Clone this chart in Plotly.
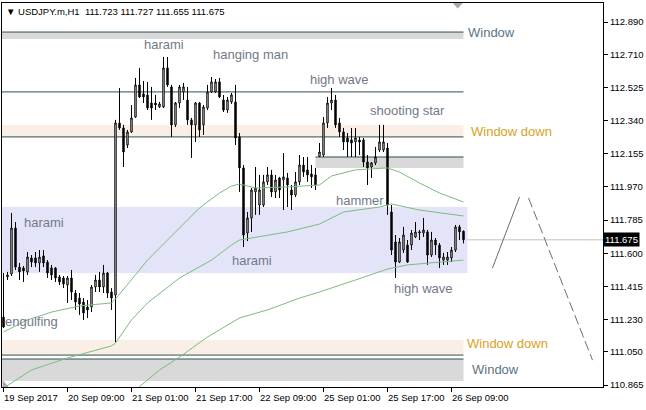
import plotly.graph_objects as go

# ---------------- data ----------------
bars = list(range(116))
opens = [111.244,111.468,111.484,111.741,111.523,111.518,111.496,111.574,111.574,111.546,
         111.585,111.551,111.518,111.518,111.468,111.462,111.423,111.462,111.378,111.350,
         111.328,111.300,111.300,111.412,111.451,111.412,111.490,111.384,111.367,112.327,
         112.299,112.204,112.277,112.360,112.539,112.489,112.483,112.438,112.438,112.416,
         112.416,112.634,112.528,112.316,112.438,112.500,112.455,112.344,112.316,112.438,
         112.316,112.410,112.500,112.500,112.556,112.455,112.399,112.444,112.444,112.249,
         112.076,111.713,111.797,111.942,111.869,111.869,111.998,112.037,111.942,112.020,
         112.009,112.020,111.953,111.925,111.998,112.092,112.065,112.042,112.037,112.140,
         112.148,112.327,112.438,112.455,112.327,112.277,112.243,112.232,112.221,112.232,
         112.232,112.109,112.081,112.104,112.176,112.176,112.187,111.830,111.663,111.551,
         111.618,111.646,111.646,111.691,111.713,111.713,111.719,111.590,111.674,111.646,
         111.562,111.562,111.574,111.618,111.747,111.723]
highs = [111.490,111.496,111.825,111.774,111.546,111.529,111.607,111.590,111.607,111.618,
         111.618,111.562,111.535,111.523,111.479,111.473,111.473,111.507,111.395,111.378,
         111.350,111.339,111.423,111.479,111.496,111.535,111.496,111.406,112.344,112.522,
         112.316,112.288,112.427,112.578,112.634,112.561,112.556,112.528,112.483,112.444,
         112.695,112.695,112.539,112.444,112.539,112.550,112.528,112.355,112.444,112.444,
         112.427,112.539,112.583,112.572,112.578,112.483,112.472,112.494,112.539,112.271,
         112.092,111.830,111.964,112.081,112.037,112.037,112.081,112.065,112.037,112.026,
         112.159,112.048,111.981,112.053,112.148,112.137,112.137,112.092,112.076,112.215,
         112.360,112.472,112.522,112.483,112.355,112.299,112.271,112.299,112.299,112.249,
         112.243,112.148,112.109,112.193,112.316,112.316,112.215,111.869,111.702,111.685,
         111.747,111.674,111.730,111.774,111.730,111.797,111.730,111.719,111.685,111.657,
         111.602,111.607,111.635,111.758,111.758,111.727]
lows = [111.183,111.451,111.473,111.507,111.451,111.440,111.479,111.523,111.523,111.496,
        111.523,111.462,111.451,111.440,111.423,111.406,111.323,111.339,111.284,111.256,
        111.228,111.239,111.272,111.384,111.384,111.378,111.350,111.284,111.105,112.288,
        112.081,112.187,112.271,112.355,112.466,112.438,112.399,112.344,112.399,112.410,
        112.410,112.528,112.249,112.304,112.410,112.455,112.316,112.132,112.221,112.249,
        112.260,112.399,112.494,112.494,112.466,112.388,112.383,112.433,112.204,111.942,
        111.635,111.668,111.719,111.814,111.814,111.858,111.981,111.914,111.908,111.908,
        111.841,111.858,111.841,111.914,111.981,112.026,111.998,111.964,111.953,112.137,
        112.137,112.299,112.399,112.299,112.249,112.176,112.137,112.137,112.137,112.148,
        112.081,111.981,112.020,112.092,112.165,112.165,111.814,111.590,111.462,111.546,
        111.602,111.546,111.618,111.685,111.674,111.691,111.535,111.579,111.590,111.518,
        111.535,111.535,111.551,111.607,111.674,111.655]
closes = [111.189,111.479,111.741,111.523,111.496,111.501,111.579,111.551,111.546,111.579,
          111.546,111.490,111.479,111.462,111.440,111.429,111.462,111.384,111.328,111.317,
          111.267,111.284,111.412,111.451,111.412,111.490,111.378,111.350,112.327,112.299,
          112.165,112.277,112.355,112.539,112.472,112.472,112.410,112.410,112.427,112.433,
          112.634,112.539,112.316,112.438,112.528,112.528,112.344,112.316,112.438,112.288,
          112.416,112.500,112.556,112.556,112.472,112.399,112.455,112.483,112.243,112.076,
          111.702,111.797,111.953,111.964,111.953,111.998,112.037,111.942,112.009,111.953,
          112.026,111.981,111.925,111.998,112.092,112.053,112.037,112.026,111.981,112.165,
          112.327,112.438,112.455,112.316,112.277,112.221,112.221,112.215,112.243,112.221,
          112.109,112.076,112.104,112.137,112.221,112.221,111.869,111.618,111.551,111.663,
          111.702,111.551,111.713,111.719,111.719,111.730,111.590,111.674,111.646,111.574,
          111.579,111.579,111.618,111.747,111.719,111.675]

# moving averages read at selected bars
ma1_bars = [0,6,12,19,27,28,34,36,41,49,54,57,59,63,71,79,82,88,96,99,104,109,115]
ma1_vals = [111.161,111.228,111.272,111.306,111.323,111.345,111.507,111.562,111.674,111.853,
            111.936,111.975,111.986,111.964,111.970,111.981,112.031,112.065,112.076,112.053,
            111.992,111.936,111.886]
ma2_bars = [0,7,16,24,27,28,32,36,44,52,57,59,71,79,85,94,97,104,115]
ma2_vals = [110.848,110.949,111.016,111.066,111.083,111.099,111.228,111.323,111.462,111.562,
            111.646,111.674,111.719,111.763,111.830,111.858,111.875,111.841,111.808]
ma3_bars = [30,34,39,44,51,59,66,74,79,88,96,101,109,115]
ma3_vals = [110.781,110.854,110.949,111.021,111.133,111.239,111.284,111.350,111.384,111.451,
            111.512,111.535,111.551,111.562]

# projection drawing to the right
proj_solid_x = [122.25, 129.0]
proj_solid_y = [111.518, 111.914]
proj_dash_x = [131.25, 147.25]
proj_dash_y = [111.909, 111.004]

# zones: start bar, end bar, low, high, fill, edge line price
zone_start = [-1, -1, 78, -1, -1, -1]
zone_end = [115, 115, 115, 116, 115, 115]
zone_low = [112.795, 112.249, 112.076, 111.490, 111.032, 110.887]
zone_high = [112.834, 112.316, 112.137, 111.858, 111.116, 111.010]
zone_fill = ["#D9D9D9", "#FAEFE6", "#D9D9D9", "#E4E4F8", "#FAEFE6", "#D9D9D9"]
zone_edge = [112.834, 112.249, 112.137, None, 111.032, 111.010]
hline_price = 112.500
last_price = 111.675

# labels
label_text = ["harami", "hanging man", "high wave", "shooting star", "harami", "harami",
              "hammer", "high wave", "engulfing"]
label_bar = [40, 61.75, 84, 101, 10.1, 62, 89, 105, 7.1]
label_price = [112.762, 112.706, 112.567, 112.394, 111.774, 111.562, 111.897, 111.406, 111.217]
window_text = ["Window", "Window down", "Window down", "Window"]
window_bar = [122, 127, 126, 123]
window_price = [112.829, 112.282, 111.099, 110.949]
window_color = ["#5A7485", "#D9A21E", "#D9A21E", "#5A7485"]

tick_bars = [0, 16, 32, 48, 64, 80, 96, 112]
tick_labels = ["19 Sep 2017", "20 Sep 09:00", "21 Sep 01:00", "21 Sep 17:00",
               "22 Sep 09:00", "25 Sep 01:00", "25 Sep 17:00", "26 Sep 09:00"]
price_ticks = [112.890, 112.710, 112.525, 112.340, 112.155, 111.970, 111.785,
               111.600, 111.415, 111.230, 111.050, 110.865]

FONT = "Liberation Sans"

fig = go.Figure()

fig.add_trace(go.Candlestick(
    x=bars, open=opens, high=highs, low=lows, close=closes,
    increasing=dict(line=dict(color="black", width=1), fillcolor="white"),
    decreasing=dict(line=dict(color="black", width=1), fillcolor="black"),
    whiskerwidth=0, hoverinfo="skip", showlegend=False))

ma_color = "#7DBB7D"
for xs, ys in [(ma1_bars, ma1_vals), (ma2_bars, ma2_vals), (ma3_bars, ma3_vals)]:
    fig.add_trace(go.Scatter(x=xs, y=ys, mode="lines", line=dict(color=ma_color, width=1),
                             hoverinfo="skip", showlegend=False))

fig.add_trace(go.Scatter(x=proj_solid_x, y=proj_solid_y, mode="lines",
                         line=dict(color="#6E6E6E", width=1), hoverinfo="skip", showlegend=False))
fig.add_trace(go.Scatter(x=proj_dash_x, y=proj_dash_y, mode="lines",
                         line=dict(color="#6E6E6E", width=1, dash="10px,4px"),
                         hoverinfo="skip", showlegend=False))

shapes = []
for s, e, lo, hi, fc in zip(zone_start, zone_end, zone_low, zone_high, zone_fill):
    shapes.append(dict(type="rect", xref="x", yref="y", x0=s, x1=e, y0=lo, y1=hi,
                       fillcolor=fc, line=dict(width=0), layer="below"))
shapes.append(dict(type="line", xref="paper", yref="y", x0=0, x1=1, y0=last_price, y1=last_price,
                   line=dict(color="#C0C0C0", width=1), layer="below"))
edge_col = "#2F4F4F"
for s, e, ep in zip(zone_start, zone_end, zone_edge):
    if ep is not None:
        shapes.append(dict(type="line", xref="x", yref="y", x0=s, x1=min(e, 115), y0=ep, y1=ep,
                           line=dict(color=edge_col, width=1), layer="below"))
shapes.append(dict(type="line", xref="x", yref="y", x0=-1, x1=115, y0=hline_price, y1=hline_price,
                   line=dict(color=edge_col, width=1), layer="below"))
# chart shift marker and corner marker
shapes.append(dict(type="path", xref="x", yref="paper",
                   path="M 112.3,1 L 114.8,1 L 113.55,0.986 Z",
                   fillcolor="#A8A8A8", line=dict(width=0)))
shapes.append(dict(type="path", xref="paper", yref="paper",
                   path="M 0.001,0.018 L 0.001,0.0 L 0.011,0.0 Z",
                   fillcolor="#A8A8A8", line=dict(width=0)))

annotations = []
for t, b, p in zip(label_text, label_bar, label_price):
    annotations.append(dict(x=b, y=p, xref="x", yref="y", text=t, showarrow=False,
                            font=dict(family=FONT, size=13, color="#727A88"),
                            xanchor="center", yanchor="middle"))
for t, b, p, c in zip(window_text, window_bar, window_price, window_color):
    annotations.append(dict(x=b, y=p, xref="x", yref="y", text=t, showarrow=False,
                            font=dict(family=FONT, size=13, color=c),
                            xanchor="center", yanchor="middle"))
for b, t in zip(tick_bars, tick_labels):
    annotations.append(dict(x=b, y=0, xref="x", yref="paper", text=t, showarrow=False,
                            font=dict(family=FONT, size=9.5, color="black"),
                            xanchor="left", yanchor="top", xshift=-2, yshift=-3))
annotations.append(dict(x=1, y=last_price, xref="paper", yref="y",
                        text=f"{last_price:.3f}", showarrow=False, bgcolor="black",
                        font=dict(family=FONT, size=9.5, color="white"),
                        xanchor="left", yanchor="middle", borderpad=1, xshift=0))
annotations.append(dict(x=0.004, y=0.977, xref="paper", yref="paper",
                        text="\u25BC USDJPY.m,H1\u00a0\u00a0111.723 111.727 111.655 111.675",
                        showarrow=False, font=dict(family=FONT, size=9.5, color="black"),
                        xanchor="left", yanchor="middle"))

fig.update_layout(
    width=646, height=410,
    margin=dict(l=2, r=43, t=3, b=23, autoexpand=False),
    paper_bgcolor="white", plot_bgcolor="white",
    showlegend=False, boxgap=0.5,
    shapes=shapes, annotations=annotations,
    hovermode=False,
    xaxis=dict(range=[-0.375, 149.875], showgrid=False, zeroline=False,
               tickvals=tick_bars, showticklabels=False, ticks="outside", ticklen=4,
               tickcolor="black", showline=True, mirror=True, linecolor="black", linewidth=1,
               rangeslider=dict(visible=False), automargin=False),
    yaxis=dict(range=[110.854, 112.996], side="right", showgrid=False, zeroline=False,
               tickvals=price_ticks, ticktext=[f"{v:.3f}" for v in price_ticks],
               ticks="outside", ticklen=4, tickcolor="black",
               tickfont=dict(family=FONT, size=9.5, color="black"),
               showline=True, mirror=True, linecolor="black", linewidth=1, automargin=False),
)

fig.write_html("out.html", config={"displayModeBar": False},
               post_script="document.body.style.margin='0';")
